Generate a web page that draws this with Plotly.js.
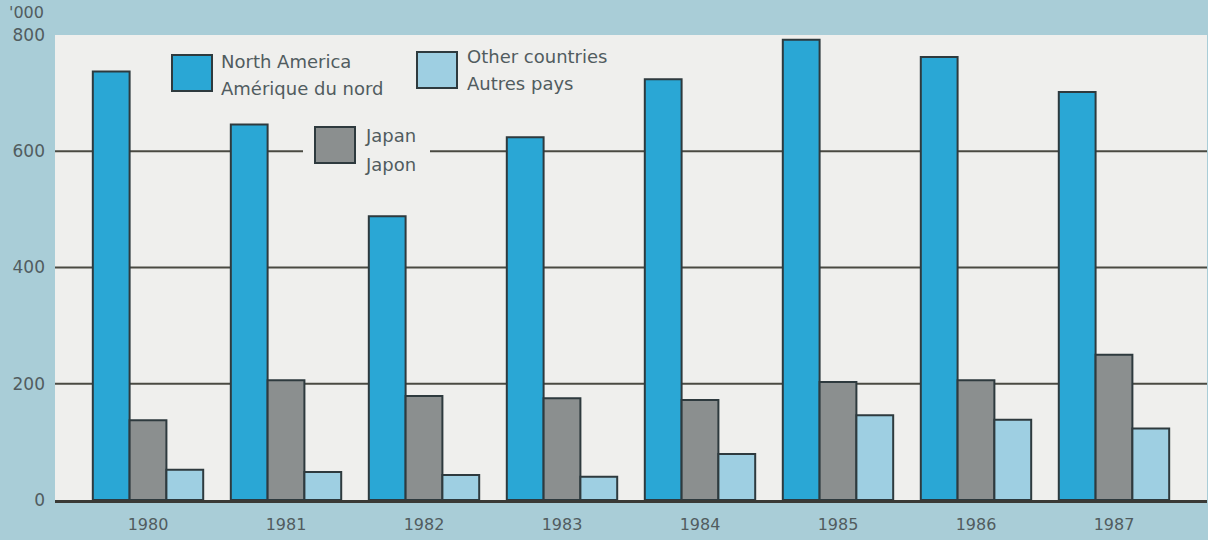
<!DOCTYPE html>
<html>
<head>
<meta charset="utf-8">
<script src="https://cdn.plot.ly/plotly-3.0.1.min.js"></script>
<style>html,body{margin:0;padding:0;background:#a9cdd7;}</style>
</head>
<body>
<div id="chart" style="width:1208px;height:540px;"></div>
<script>
const years = ['1980','1981','1982','1983','1984','1985','1986','1987'];
const northAmerica = [737, 646, 488, 624, 724, 792, 762, 702];
const japan = [137, 206, 179, 175, 172, 203, 206, 250];
const otherCountries = [52, 48, 43, 40, 79, 146, 138, 123];
const yTicks = [0, 200, 400, 600, 800];
const gridValues = [200, 400, 600];

const cNA = '#2aa7d5', cJP = '#8b8f8f', cOT = '#9ecfe2';
const edge = '#2e3a3e';
const txt = '#515c5f';
const plotBg = '#efefed';
const font = 'DejaVu Sans, Verdana, sans-serif';

function bar(name, vals, color) {
  return {type:'bar', name:name, x:years, y:vals,
    marker:{color:color, line:{color:edge, width:2}}, hoverinfo:'x+y'};
}
const data = [bar('North America', northAmerica, cNA), bar('Japan', japan, cJP), bar('Other countries', otherCountries, cOT)];

// pixel -> paper helpers (plot area: x 55..1207, y 35..500)
const L = 55, W = 1152, B = 500, H = 465;
const px = v => (v - L) / W;
const py = v => (B - v) / H;

const shapes = gridValues.map(v => ({type:'line', xref:'paper', yref:'y', x0:0, x1:1, y0:v, y1:v,
  line:{color:'#4a4a42', width:2}, layer:'below'}));
// legend background for Japan key (breaks gridline)
shapes.push({type:'rect', xref:'paper', yref:'paper', x0:px(303), x1:px(430), y0:py(175), y1:py(118),
  fillcolor:plotBg, line:{width:0}, layer:'below'});
function key(x0, y0, color) {
  return {type:'rect', xref:'paper', yref:'paper', x0:px(x0), x1:px(x0+40), y0:py(y0+36), y1:py(y0),
    fillcolor:color, line:{color:edge, width:2}, layer:'above'};
}
shapes.push(key(172, 55, cNA), key(417, 52, cOT), key(315, 127, cJP));

function lab(text, x, y) {
  return {text:text, xref:'paper', yref:'paper', x:px(x), y:py(y), xanchor:'left', yanchor:'middle',
    showarrow:false, font:{family:font, size:18, color:txt}};
}
const annotations = [
  lab('North America', 219, 61), lab('Amérique du nord', 219, 89),
  lab('Other countries', 465, 56), lab('Autres pays', 465, 84),
  lab('Japan', 363, 135), lab('Japon', 363, 164),
  {text:"'000", xref:'paper', yref:'paper', x:px(46), y:py(13), xanchor:'right', yanchor:'middle',
    showarrow:false, font:{family:font, size:16, color:txt}}
];

const layout = {
  width:1208, height:540,
  margin:{l:55, r:1, t:35, b:40},
  paper_bgcolor:'#a9cdd7', plot_bgcolor:plotBg,
  showlegend:false,
  barmode:'group', bargap:0.2, bargroupgap:0,
  font:{family:font, color:txt, size:16},
  xaxis:{type:'category', range:[-0.674, 7.674], showgrid:false, zeroline:false,
    showline:true, linecolor:'#3a3a36', linewidth:3, ticks:'', ticklabelstandoff:8,
    tickfont:{family:font, size:16, color:txt}},
  yaxis:{range:[0, 800], tickvals:yTicks, showgrid:false, zeroline:false, showline:false,
    ticks:'', ticklabelstandoff:9, tickfont:{family:font, size:17, color:txt}},
  shapes:shapes, annotations:annotations
};
Plotly.newPlot('chart', data, layout, {staticPlot:true});
</script>
</body>
</html>
